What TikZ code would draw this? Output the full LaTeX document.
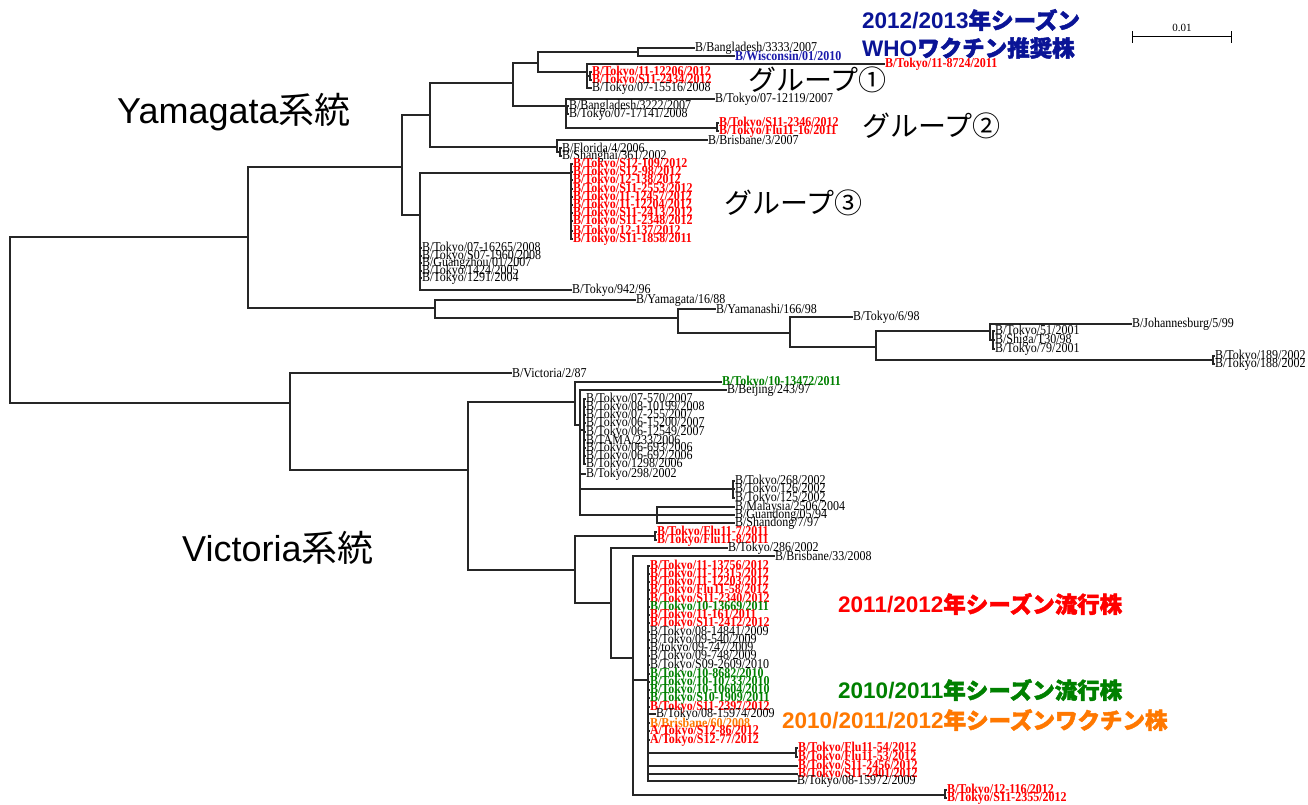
\documentclass[tikz,border=0pt]{standalone}
\usepackage{fontspec}
\usepackage{graphicx}
\setmainfont{Liberation Serif}
\newfontfamily\arf{Liberation Sans}
\newfontfamily\jpf{Noto Sans CJK JP}
\newfontfamily\jpbf{Noto Sans CJK JP}[FakeBold=2]
\definecolor{tred}{RGB}{255,0,0}
\definecolor{tgreen}{RGB}{0,128,0}
\definecolor{tblue}{RGB}{25,25,170}
\definecolor{torange}{RGB}{255,120,0}
\definecolor{tnavy}{RGB}{10,20,150}
\tikzset{
  edge/.style={line width=1.1pt, draw=black!85},
  leaf/.style={anchor=west, inner sep=0pt, outer sep=0pt, font=\fontsize{12}{12}\selectfont},
  rl/.style={leaf, text=tred, font=\fontsize{12}{12}\selectfont\bfseries},
  gl/.style={leaf, text=tgreen, font=\fontsize{12}{12}\selectfont\bfseries},
  bl/.style={leaf, text=tblue, font=\fontsize{12}{12}\selectfont\bfseries},
  ol/.style={leaf, text=torange, font=\fontsize{12}{12}\selectfont\bfseries},
  big/.style={anchor=west, inner sep=0pt, font=\fontsize{36}{36}\selectfont},
  grp/.style={anchor=west, inner sep=0pt, font=\jpf\fontsize{28}{28}\selectfont},
  ttl/.style={anchor=west, inner sep=0pt, font=\fontsize{22.5}{22.5}\selectfont\bfseries},
}
% \lfn{name}{style}{x}{y}{parent}{text}
\newcommand{\lfn}[6]{%
  \node[#2] (#1) at (#3,#4) {\scalebox{1}[1.13]{#6}};
  \draw[edge] (#5) |- (#1.west);}
\begin{document}
\begin{tikzpicture}[x=1pt,y=-1pt]
\useasboundingbox (0,0) rectangle (1308,805);
% internal nodes
\coordinate (R) at (10,320);
\coordinate (Y0) at (248,237);
\coordinate (Y1) at (402,167);
\coordinate (Y2) at (430,115);
\coordinate (Y3) at (513,83);
\coordinate (Y4) at (538,63);
\coordinate (Y4a) at (638,52);
\coordinate (Y4b) at (587,72);
\coordinate (Y4c) at (590,76);
\coordinate (Y5) at (566,106);
\coordinate (Y5a) at (567,110);
\coordinate (Y5b) at (717,128);
\coordinate (Y6) at (557,147);
\coordinate (Y6a) at (560,152);
\coordinate (Y7) at (420,215);
\coordinate (Y7a) at (571,173);
\coordinate (Y8) at (435,308);
\coordinate (Y9) at (678,318);
\coordinate (Y10) at (790,333);
\coordinate (Y11) at (876,347);
\coordinate (Y12) at (990,331);
\coordinate (Y12a) at (993,340);
\coordinate (Y13) at (1213,360);
\coordinate (V0) at (290,403);
\coordinate (V1) at (468,470);
\coordinate (V2) at (575,402);
\coordinate (V3) at (580,425);
\coordinate (V3a) at (584,430);
\coordinate (V3b) at (733,489);
\coordinate (V3c) at (657,515);
\coordinate (V4) at (575,570);
\coordinate (V4a) at (655,536);
\coordinate (V5) at (611,603);
\coordinate (V6) at (633,658);
\coordinate (V7) at (648,680);
\coordinate (V7a) at (796,753);
\coordinate (V8) at (945,795);
% internal edges
\foreach \p/\c in {R/Y0,R/V0,Y0/Y1,Y0/Y8,Y1/Y2,Y1/Y7,Y2/Y3,Y2/Y6,Y3/Y4,Y3/Y5,Y4/Y4a,Y4/Y4b,Y4b/Y4c,Y5/Y5a,Y5/Y5b,Y6/Y6a,Y7/Y7a,Y8/Y9,Y9/Y10,Y10/Y11,Y11/Y12,Y11/Y13,Y12/Y12a,V0/V1,V1/V2,V1/V4,V2/V3,V3/V3a,V3/V3b,V3/V3c,V4/V4a,V4/V5,V5/V6,V6/V7,V6/V8,V7/V7a}
  \draw[edge] (\p) |- (\c);
% leaves: Yamagata
\lfn{a1}{leaf}{695}{48}{Y4a}{B/Bangladesh/3333/2007}
\lfn{a2}{bl}{735}{56}{Y4a}{B/Wisconsin/01/2010}
\lfn{a3}{rl}{885}{64}{Y4b}{B/Tokyo/11-8724/2011}
\lfn{a4}{rl}{592}{72}{Y4c}{B/Tokyo/11-12206/2012}
\lfn{a5}{rl}{592}{80}{Y4c}{B/Tokyo/S11-2434/2012}
\lfn{a6}{leaf}{592}{88}{Y4b}{B/Tokyo/07-15516/2008}
\lfn{a7}{leaf}{715}{99}{Y5}{B/Tokyo/07-12119/2007}
\lfn{a8}{leaf}{569}{106}{Y5a}{B/Bangladesh/3222/2007}
\lfn{a9}{leaf}{569}{114}{Y5a}{B/Tokyo/07-17141/2008}
\lfn{a10}{rl}{719}{123}{Y5b}{B/Tokyo/S11-2346/2012}
\lfn{a11}{rl}{719}{131}{Y5b}{B/Tokyo/Flu11-16/2011}
\lfn{a12}{leaf}{708}{140}{Y6}{B/Brisbane/3/2007}
\lfn{a13}{leaf}{562}{148}{Y6a}{B/Florida/4/2006}
\lfn{a14}{leaf}{562}{156}{Y6a}{B/Shanghai/361/2002}
\lfn{g1}{rl}{573}{164}{Y7a}{B/Tokyo/S12-109/2012}
\lfn{g2}{rl}{573}{172}{Y7a}{B/Tokyo/S12-98/2012}
\lfn{g3}{rl}{573}{180}{Y7a}{B/Tokyo/12-138/2012}
\lfn{g4}{rl}{573}{189}{Y7a}{B/Tokyo/S11-2553/2012}
\lfn{g5}{rl}{573}{197}{Y7a}{B/Tokyo/11-12457/2012}
\lfn{g6}{rl}{573}{205}{Y7a}{B/Tokyo/11-12204/2012}
\lfn{g7}{rl}{573}{213}{Y7a}{B/Tokyo/S11-2413/2012}
\lfn{g8}{rl}{573}{221}{Y7a}{B/Tokyo/S11-2348/2012}
\lfn{g9}{rl}{573}{231}{Y7a}{B/Tokyo/12-137/2012}
\lfn{g10}{rl}{573}{239}{Y7a}{B/Tokyo/S11-1858/2011}
\lfn{b1}{leaf}{422}{248}{Y7}{B/Tokyo/07-16265/2008}
\lfn{b2}{leaf}{422}{256}{Y7}{B/Tokyo/S07-1960/2008}
\lfn{b3}{leaf}{422}{263}{Y7}{B/Guangzhou/01/2007}
\lfn{b4}{leaf}{422}{271}{Y7}{B/Tokyo/1424/2005}
\lfn{b5}{leaf}{422}{278}{Y7}{B/Tokyo/1291/2004}
\lfn{b6}{leaf}{572}{290}{Y7}{B/Tokyo/942/96}
\lfn{c1}{leaf}{636}{300}{Y8}{B/Yamagata/16/88}
\lfn{c2}{leaf}{716}{309}{Y9}{B/Yamanashi/166/98}
\lfn{c3}{leaf}{853}{317}{Y10}{B/Tokyo/6/98}
\lfn{c4}{leaf}{1132}{324}{Y12}{B/Johannesburg/5/99}
\lfn{c5}{leaf}{995}{331}{Y12a}{B/Tokyo/51/2001}
\lfn{c6}{leaf}{995}{340}{Y12a}{B/Shiga/T30/98}
\lfn{c7}{leaf}{995}{349}{Y12a}{B/Tokyo/79/2001}
\lfn{c8}{leaf}{1215}{356}{Y13}{B/Tokyo/189/2002}
\lfn{c9}{leaf}{1215}{364}{Y13}{B/Tokyo/188/2002}
% leaves: Victoria
\lfn{d1}{leaf}{512}{373}{V0}{B/Victoria/2/87}
\lfn{d2}{gl}{722}{382}{V2}{B/Tokyo/10-13472/2011}
\lfn{d3}{leaf}{727}{390}{V3}{B/Beijing/243/97}
\lfn{d4}{leaf}{586}{399}{V3a}{B/Tokyo/07-570/2007}
\lfn{d5}{leaf}{586}{407}{V3a}{B/Tokyo/08-10199/2008}
\lfn{d6}{leaf}{586}{415}{V3a}{B/Tokyo/07-255/2007}
\lfn{d7}{leaf}{586}{423}{V3a}{B/Tokyo/06-15200/2007}
\lfn{d8}{leaf}{586}{432}{V3a}{B/Tokyo/06-12549/2007}
\lfn{d9}{leaf}{586}{440}{V3a}{B/TAMA/233/2006}
\lfn{d10}{leaf}{586}{448}{V3a}{B/Tokyo/06-693/2006}
\lfn{d11}{leaf}{586}{456}{V3a}{B/Tokyo/06-692/2006}
\lfn{d12}{leaf}{586}{464}{V3a}{B/Tokyo/1298/2006}
\lfn{d13}{leaf}{586}{474}{V3}{B/Tokyo/298/2002}
\lfn{e1}{leaf}{735}{481}{V3b}{B/Tokyo/268/2002}
\lfn{e2}{leaf}{735}{489}{V3b}{B/Tokyo/126/2002}
\lfn{e3}{leaf}{735}{498}{V3b}{B/Tokyo/125/2002}
\lfn{e4}{leaf}{735}{507}{V3c}{B/Malaysia/2506/2004}
\lfn{e5}{leaf}{735}{515}{V3c}{B/Guandong/05/94}
\lfn{e6}{leaf}{735}{523}{V3c}{B/Shandong/7/97}
\lfn{f1}{rl}{657}{532}{V4a}{B/Tokyo/Flu11-7/2011}
\lfn{f2}{rl}{657}{540}{V4a}{B/Tokyo/Flu11-8/2011}
\lfn{f3}{leaf}{728}{548}{V5}{B/Tokyo/286/2002}
\lfn{f4}{leaf}{775}{556}{V6}{B/Brisbane/33/2008}
\lfn{h1}{rl}{650}{566}{V7}{B/Tokyo/11-13756/2012}
\lfn{h2}{rl}{650}{574}{V7}{B/Tokyo/11-12315/2012}
\lfn{h3}{rl}{650}{582}{V7}{B/Tokyo/11-12203/2012}
\lfn{h4}{rl}{650}{590}{V7}{B/Tokyo/Flu11-58/2012}
\lfn{h5}{rl}{650}{599}{V7}{B/Tokyo/S11-2340/2012}
\lfn{h6}{gl}{650}{607}{V7}{B/Tokyo/10-13669/2011}
\lfn{h7}{rl}{650}{615}{V7}{B/Tokyo/11-161/2011}
\lfn{h8}{rl}{650}{623}{V7}{B/Tokyo/S11-2412/2012}
\lfn{h9}{leaf}{650}{632}{V7}{B/Tokyo/08-14841/2009}
\lfn{h10}{leaf}{650}{640}{V7}{B/Tokyo/09-540/2009}
\lfn{h11}{leaf}{650}{648}{V7}{B/tokyo/09-747/2009}
\lfn{h12}{leaf}{650}{656}{V7}{B/Tokyo/09-748/2009}
\lfn{h13}{leaf}{650}{665}{V7}{B/Tokyo/S09-2609/2010}
\lfn{h14}{gl}{650}{674}{V7}{B/Tokyo/10-8682/2010}
\lfn{h15}{gl}{650}{682}{V7}{B/Tokyo/10-10733/2010}
\lfn{h16}{gl}{650}{690}{V7}{B/Tokyo/10-10604/2010}
\lfn{h17}{gl}{650}{698}{V7}{B/Tokyo/S10-1909/2011}
\lfn{h18}{rl}{650}{707}{V7}{B/Tokyo/S11-2397/2012}
\lfn{h19}{leaf}{656}{714}{V7}{B/Tokyo/08-15974/2009}
\lfn{h20}{ol}{650}{723}{V7}{B/Brisbane/60/2008}
\lfn{h21}{rl}{650}{731}{V7}{A/Tokyo/S12-86/2012}
\lfn{h22}{rl}{650}{740}{V7}{A/Tokyo/S12-77/2012}
\lfn{k1}{rl}{798}{748}{V7a}{B/Tokyo/Flu11-54/2012}
\lfn{k2}{rl}{798}{757}{V7a}{B/Tokyo/Flu11-53/2012}
\lfn{k3}{rl}{798}{766}{V7}{B/Tokyo/S11-2456/2012}
\lfn{k4}{rl}{798}{774}{V7}{B/Tokyo/S11-2401/2012}
\lfn{k5}{leaf}{797}{781}{V7}{B/Tokyo/08-15972/2009}
\lfn{m1}{rl}{947}{790}{V8}{B/Tokyo/12-116/2012}
\lfn{m2}{rl}{947}{798}{V8}{B/Tokyo/S11-2355/2012}
% scale bar
\coordinate (s1) at (1132,37);
\coordinate (s2) at (1231,37);
\draw[line width=1pt] (s1) -- (s2);
\draw[line width=1pt] ([yshift=-6pt]s1) -- ([yshift=6pt]s1);
\draw[line width=1pt] ([yshift=-6pt]s2) -- ([yshift=6pt]s2);
\node[font=\fontsize{11}{11}\selectfont, inner sep=0pt] (sl) at (1182,28) {0.01};
% big labels
\node[big] (yam) at (117,112) {{\arf Yamagata}{\jpf 系統}};
\node[big] (vic) at (182,548) {{\arf Victoria}{\jpf 系統}};
\node[grp] (gr1) at (748,80) {グループ①};
\node[grp] (gr2) at (862,126) {グループ②};
\node[grp] (gr3) at (724,203) {グループ③};
\node[ttl, text=tnavy] (t1) at (862,20) {{\arf\bfseries 2012/2013}{\jpbf 年シーズン}};
\node[ttl, text=tnavy] (t2) at (862,48) {{\arf\bfseries WHO}{\jpbf ワクチン推奨株}};
\node[ttl, text=tred] (t3) at (838,604) {{\arf\bfseries 2011/2012}{\jpbf 年シーズン流行株}};
\node[ttl, text=tgreen] (t4) at (838,690) {{\arf\bfseries 2010/2011}{\jpbf 年シーズン流行株}};
\node[ttl, text=torange] (t5) at (782,720) {{\arf\bfseries 2010/2011/2012}{\jpbf 年シーズンワクチン株}};
\end{tikzpicture}
\end{document}
